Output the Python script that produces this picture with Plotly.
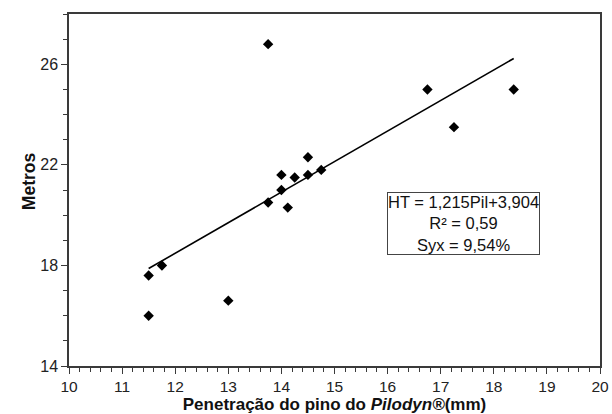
import plotly.graph_objects as go

# Data
pilodyn_mm = [11.5, 11.5, 11.75, 13.0, 13.75, 13.75, 14.0, 14.0, 14.12, 14.25, 14.5, 14.5, 14.75, 16.75, 17.25, 18.375]
height_m   = [17.6, 16.0, 18.0, 16.6, 26.8, 20.5, 21.6, 21.0, 20.3, 21.5, 22.3, 21.6, 21.8, 25.0, 23.5, 25.0]

slope = 1.215
intercept = 3.904
x_fit = [min(pilodyn_mm), max(pilodyn_mm)]
y_fit = [slope * v + intercept for v in x_fit]

eq_text = "HT = 1,215Pil+3,904<br>R² = 0,59<br>Syx = 9,54%"

axis_color = "#3a3a3a"
font_family = "Liberation Sans, Arial, sans-serif"

fig = go.Figure()
fig.add_trace(go.Scatter(
    x=pilodyn_mm, y=height_m, mode="markers",
    marker=dict(symbol="diamond", size=8, color="black"),
    showlegend=False, hoverinfo="x+y"))
fig.add_trace(go.Scatter(
    x=x_fit, y=y_fit, mode="lines",
    line=dict(color="black", width=1.6),
    showlegend=False, hoverinfo="skip"))

fig.add_annotation(
    x=17.42, y=19.66, xref="x", yref="y", text=eq_text, showarrow=False,
    font=dict(family=font_family, size=16.5, color="#111"),
    align="center", bordercolor="#444", borderwidth=1, borderpad=0,
    bgcolor="white")

# y-axis title placed as annotation for precise position
fig.add_annotation(
    x=-0.098, y=0.525, xref="paper", yref="paper", text="<b>Metros</b>",
    showarrow=False, textangle=-90,
    font=dict(family=font_family, size=17.5, color="#111"))

fig.update_xaxes(
    range=[10, 20], dtick=1, tick0=10, automargin=False,
    showgrid=False, zeroline=False,
    showline=True, linecolor=axis_color, linewidth=1.5, mirror=True,
    ticks="outside", ticklen=6, tickcolor=axis_color, tickwidth=1.2,
    minor=dict(dtick=0.2, ticks="outside", ticklen=4, tickcolor=axis_color, tickwidth=1, showgrid=False),
    tickfont=dict(family=font_family, size=15.5, color="#222"),
    title=dict(text="<b>Penetração do pino do <i>Pilodyn®</i>(mm)</b>",
               font=dict(family=font_family, size=17, color="#111"), standoff=3))
fig.update_yaxes(
    range=[14, 28], dtick=4, tick0=14, automargin=False,
    showgrid=False, zeroline=False,
    showline=True, linecolor=axis_color, linewidth=1.5, mirror=True,
    ticks="outside", ticklen=6, tickcolor=axis_color, tickwidth=1.2,
    minor=dict(dtick=1, ticks="outside", ticklen=4, tickcolor=axis_color, tickwidth=1, showgrid=False),
    tickfont=dict(family=font_family, size=16, color="#222"))

fig.update_layout(
    width=612, height=414,
    margin=dict(l=69, r=12, t=14, b=48),
    paper_bgcolor="white", plot_bgcolor="white",
    font=dict(family=font_family))

fig.write_html("out.html", config={"displayModeBar": False},
               post_script="document.body.style.margin='0px';document.body.style.overflow='hidden';")
